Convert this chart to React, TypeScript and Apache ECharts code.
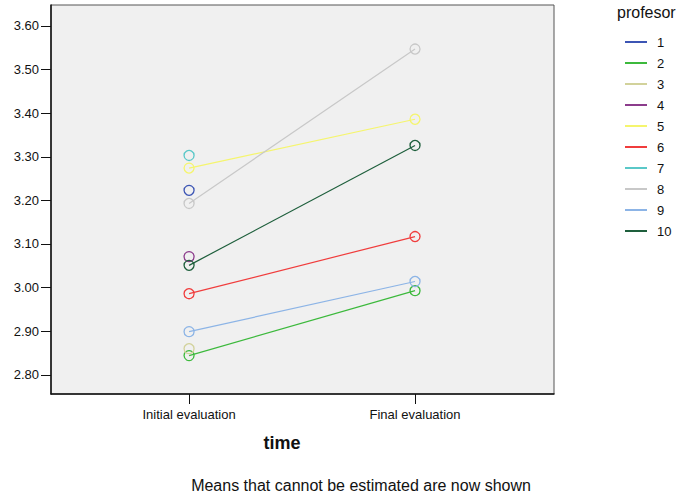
import React, { useEffect, useRef } from "react";
import * as echarts from "echarts";

const categories = ["Initial evaluation", "Final evaluation"];
const professors = ["1", "2", "3", "4", "5", "6", "7", "8", "9", "10"];
const initialMeans = [3.223, 2.844, 2.86, 3.071, 3.274, 2.986, 3.303, 3.193, 2.899, 3.051];
const finalMeans: (number | null)[] = [null, 2.993, null, null, 3.386, 3.117, null, 3.547, 3.014, 3.326];
const yTicks = [2.8, 2.9, 3.0, 3.1, 3.2, 3.3, 3.4, 3.5, 3.6];
const colors = [
  "#3c55b4",
  "#3cb93c",
  "#d2d29b",
  "#8c3c8c",
  "#f5f56e",
  "#f03c3c",
  "#5ac8c8",
  "#c8c8c8",
  "#8cb4e6",
  "#1e5f3c",
];

const FONT = "'Liberation Sans', Arial, sans-serif";

export default function App() {
  const ref = useRef<HTMLDivElement>(null);
  useEffect(() => {
    if (!ref.current) return;
    const chart = echarts.init(ref.current, null, { renderer: "svg" });
    const series = professors.map((p, i) => {
      const data: number[][] = [[0, initialMeans[i]]];
      if (finalMeans[i] !== null) data.push([1, finalMeans[i] as number]);
      return {
        name: p,
        type: "line",
        data,
        symbol: "circle",
        symbolSize: 10,
        lineStyle: { color: colors[i], width: 1.2 },
        itemStyle: { color: "transparent", borderColor: colors[i], borderWidth: 1.3 },
        emphasis: { disabled: true },
      };
    });
    chart.setOption({
      animation: false,
      backgroundColor: "#ffffff",
      textStyle: { fontFamily: FONT },
      grid: {
        left: 51,
        top: 5,
        width: 503,
        height: 389,
        show: true,
        backgroundColor: "#f0f0f0",
        borderColor: "#555",
        borderWidth: 1,
      },
      xAxis: {
        type: "value",
        min: -0.611,
        max: 1.615,
        axisLine: { show: true, onZero: false, lineStyle: { color: "#111", width: 1.5 } },
        axisTick: { show: true, customValues: [0, 1], length: 10, lineStyle: { color: "#111" } },
        axisLabel: {
          customValues: [0, 1],
          formatter: (v: number) => categories[Math.round(v)] ?? "",
          color: "#111",
          fontSize: 13,
          fontFamily: FONT,
          margin: 14,
        },
        splitLine: { show: false },
      },
      yAxis: {
        type: "value",
        min: 2.756,
        max: 3.648,
        axisLine: { show: true, onZero: false, lineStyle: { color: "#111", width: 1.5 } },
        axisTick: { show: true, customValues: yTicks, length: 10, lineStyle: { color: "#111" } },
        axisLabel: {
          customValues: yTicks,
          formatter: (v: number) => v.toFixed(2),
          color: "#111",
          fontSize: 13,
          fontFamily: FONT,
          margin: 12,
        },
        splitLine: { show: false },
      },
      legend: {
        orient: "vertical",
        left: 625,
        top: 35,
        padding: 0,
        itemWidth: 22,
        itemHeight: 2,
        itemGap: 7,
        icon: "rect",
        selectedMode: false,
        textStyle: { fontSize: 13, lineHeight: 14, color: "#111", fontFamily: FONT, padding: [0, 0, 0, 5] },
        data: professors.map((p, i) => ({
          name: p,
          itemStyle: { color: colors[i], borderWidth: 0 },
        })),
      },
      graphic: [
        {
          type: "text",
          left: 617,
          top: 4,
          style: { text: "profesor", fontSize: 16, fontFamily: FONT, fill: "#111" },
        },
        {
          type: "text",
          x: 282,
          y: 443,
          style: {
            text: "time",
            fontSize: 18,
            fontWeight: "bold",
            fontFamily: FONT,
            fill: "#111",
            align: "center",
            verticalAlign: "middle",
          },
        },
        {
          type: "text",
          x: 361,
          y: 485,
          style: {
            text: "Means that cannot be estimated are now shown",
            fontSize: 16,
            fontFamily: FONT,
            fill: "#111",
            align: "center",
            verticalAlign: "middle",
          },
        },
      ],
      series,
    });
    return () => chart.dispose();
  }, []);
  return <div ref={ref} style={{ width: 680, height: 500, position: "absolute", left: 0, top: 0 }} />;
}
